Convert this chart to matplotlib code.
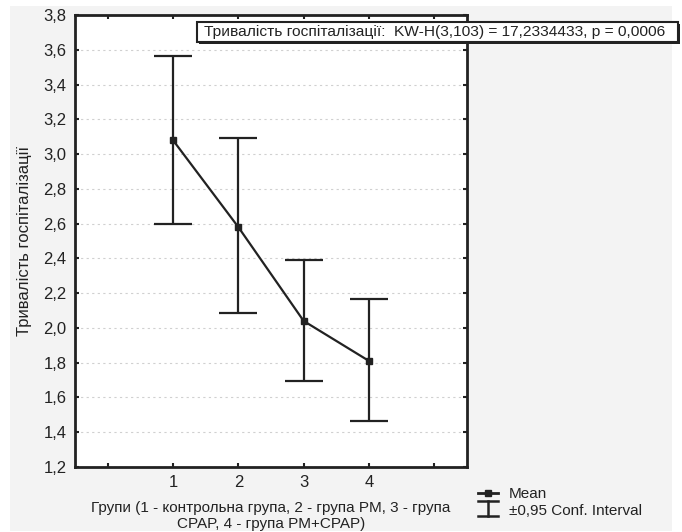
import matplotlib
matplotlib.use('Agg')
import matplotlib.pyplot as plt
from matplotlib.patches import Rectangle
from matplotlib.lines import Line2D
from matplotlib.ticker import FuncFormatter

# group means and 95% confidence limits
groups = [1, 2, 3, 4]
means = [3.08, 2.58, 2.04, 1.81]
ci_low = [2.595, 2.085, 1.697, 1.462]
ci_high = [3.565, 3.095, 2.39, 2.168]

y_ticks = [1.2, 1.4, 1.6, 1.8, 2.0, 2.2, 2.4, 2.6, 2.8, 3.0, 3.2, 3.4, 3.6, 3.8]
x_ticks = [0, 1, 2, 3, 4, 5]
x_labels = ['', '1', '2', '3', '4', '']

title_text = 'Тривалість госпіталізації:  KW-H(3,103) = 17,2334433, p = 0,0006'
y_label = 'Тривалість госпіталізації'
x_label = 'Групи (1 - контрольна група, 2 - група PM, 3 - група\nCPAP, 4 - група PM+CPAP)'

plt.rcParams['font.family'] = ['Liberation Sans', 'DejaVu Sans']

W, H = 682, 532
fig = plt.figure(figsize=(W / 100, H / 100), dpi=100, facecolor='white')

def fx(px):
    return px / W

def fy(py):
    return 1 - py / H

# light gray panel behind everything
fig.patches.append(Rectangle((fx(10), fy(531)), fx(662), 525 / H,
                             transform=fig.transFigure, facecolor='#f3f3f3',
                             edgecolor='none', zorder=-5))

ax = fig.add_axes([fx(75), fy(467), fx(392), 452 / H])
ax.set_facecolor('white')

yerr = [[m - lo for m, lo in zip(means, ci_low)],
        [hi - m for m, hi in zip(means, ci_high)]]
ax.errorbar(groups, means, yerr=yerr, color='#222222', lw=1.6, elinewidth=1.6,
            capsize=13.5, capthick=1.6, marker='s', markersize=4.5, zorder=3)

ax.set_xlim(-0.5, 5.5)
ax.set_ylim(1.2, 3.8)
ax.set_yticks(y_ticks)
ax.yaxis.set_major_formatter(FuncFormatter(lambda v, p: f'{v:.1f}'.replace('.', ',')))
ax.set_xticks(x_ticks)
ax.set_xticklabels(x_labels)
ax.tick_params(direction='in', length=3, width=1.5, top=True, right=True,
               labelsize=12, colors='#222222', pad=6)
ax.grid(axis='y', linestyle=(0, (2, 3)), color='#d0d0d0', lw=0.8)
for s in ax.spines.values():
    s.set_linewidth(2)
    s.set_color('#222222')

ax.set_ylabel(y_label, fontsize=12, color='#222222', labelpad=8)
ax.set_xlabel(x_label, fontsize=11, color='#222222', labelpad=8, linespacing=1.1)

# statistics box at the top
fig.patches.append(Rectangle((fx(199), fy(44)), fx(481), 20 / H,
                             transform=fig.transFigure, facecolor='#222222',
                             edgecolor='none', zorder=5))
fig.patches.append(Rectangle((fx(197), fy(42)), fx(481), 20 / H,
                             transform=fig.transFigure, facecolor='white',
                             edgecolor='#222222', lw=1.5, zorder=6))
fig.text(fx(204), fy(32), title_text, fontsize=11.15, color='#222222',
         va='center', ha='left', zorder=7)

# legend glyphs
fig.add_artist(Line2D([fx(478), fx(498)], [fy(493), fy(493)], color='#222222', lw=2))
fig.add_artist(Line2D([fx(488)], [fy(493)], color='#222222', marker='s',
                      markersize=5, lw=0))
fig.add_artist(Line2D([fx(478), fx(498)], [fy(501), fy(501)], color='#222222', lw=1.8))
fig.add_artist(Line2D([fx(478), fx(498)], [fy(516), fy(516)], color='#222222', lw=1.8))
fig.add_artist(Line2D([fx(488), fx(488)], [fy(501), fy(516)], color='#222222', lw=1.8))
fig.text(fx(509), fy(494), 'Mean', fontsize=11, color='#222222', va='center')
fig.text(fx(509), fy(511), '±0,95 Conf. Interval', fontsize=11, color='#222222', va='center')

fig.savefig('out.png', dpi=100, facecolor='white')
